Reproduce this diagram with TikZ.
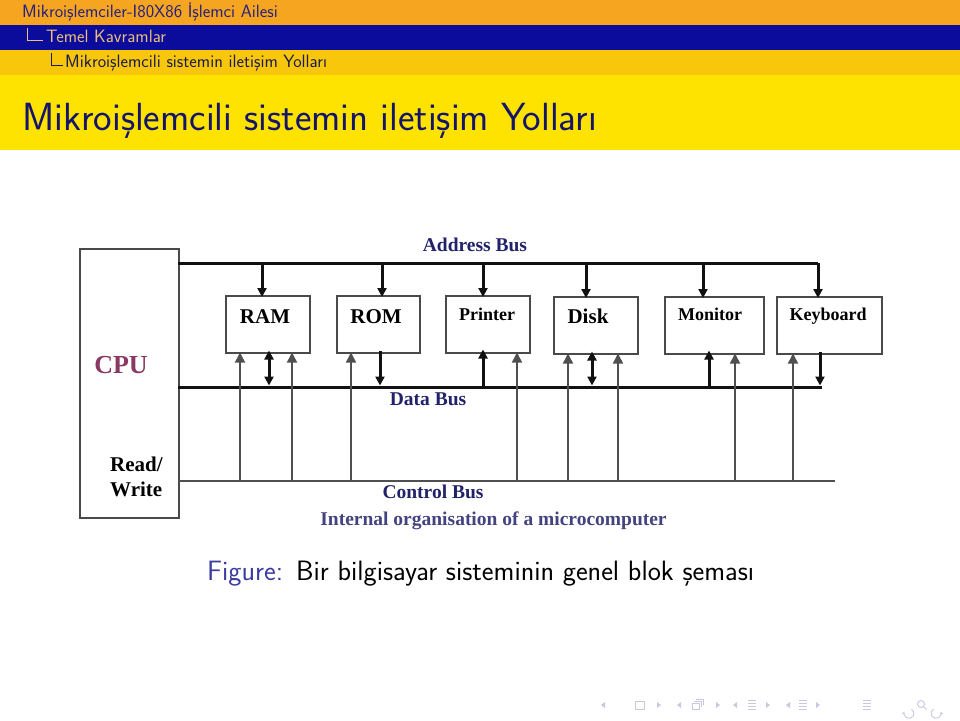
\documentclass[tikz,border=0pt]{standalone}
\usepackage{fontspec}
\newfontfamily\tnr{Liberation Serif}
\usetikzlibrary{arrows.meta}
\definecolor{borange}{HTML}{F6A521}
\definecolor{bblue}{HTML}{0B0B9C}
\definecolor{byel}{HTML}{F8C70C}
\definecolor{btitle}{HTML}{FFE300}
\definecolor{hOne}{HTML}{26207E}
\definecolor{hTwo}{HTML}{E8BE7A}
\definecolor{hThree}{HTML}{1B1B4A}
\definecolor{titlec}{HTML}{14146A}
\definecolor{boxc}{HTML}{4A4A4A}
\definecolor{busc}{HTML}{111111}
\definecolor{ctrlc}{HTML}{505050}
\definecolor{labc}{HTML}{22226A}
\definecolor{cpuc}{HTML}{8A3A62}
\definecolor{figc}{HTML}{3C3CA0}
\definecolor{navc}{HTML}{C8C8DE}
\tikzset{
  hdr/.style={anchor=base west, inner sep=0, font=\sffamily\fontsize{17.9}{21}\selectfont},
  unit/.style={draw=boxc, line width=1.5, minimum width=#1, minimum height=57, anchor=north west, inner sep=0},
  blab/.style={anchor=base, inner sep=0, font=\tnr\bfseries\fontsize{21}{24}\selectfont},
  slab/.style={anchor=base, inner sep=0, font=\tnr\bfseries\fontsize{18}{21}\selectfont},
  buslab/.style={anchor=base, inner sep=0, text=labc, font=\tnr\bfseries\fontsize{19.5}{23}\selectfont},
  busline/.style={draw=busc, line width=3},
  ctrlline/.style={draw=ctrlc, line width=1.5},
  tarrow/.style={draw=busc, line width=3, -{Triangle[width=9pt,length=9pt]}},
  tdarrow/.style={draw=busc, line width=3, {Triangle[width=9pt,length=9pt]}-{Triangle[width=9pt,length=9pt]}},
  carrow/.style={draw=ctrlc, line width=1.5, -{Triangle[width=10pt,length=10pt]}},
  navtri/.style={fill=navc},
  navline/.style={draw=navc, line width=0.9}
}
\begin{document}
\begin{tikzpicture}[x=1pt,y=-1pt]
\useasboundingbox (0,0) rectangle (960,720);
\fill[white] (0,0) rectangle (960,720);
% header bands
\fill[borange] (0,0) rectangle (960,25);
\fill[bblue] (0,25) rectangle (960,50);
\fill[byel] (0,50) rectangle (960,75);
\fill[btitle] (0,75) rectangle (960,150);
\node[hdr, text=hOne] (h1) at (22,17.5) {Mikroişlemciler-I80X86 İşlemci Ailesi};
\node[hdr, text=hTwo] (h2) at (46,42.5) {Temel Kavramlar};
\node[hdr, text=hThree] (h3) at (65,67.5) {Mikroişlemcili sistemin iletişim Yolları};
\draw[hTwo, line width=1] (27,27.5) -- (27,40.5) -- (43,40.5);
\draw[hThree, line width=1] (51.5,52.5) -- (51.5,65.5) -- (63,65.5);
\node[anchor=base west, inner sep=0, text=titlec, font=\sffamily\fontsize{39.3}{45}\selectfont] (title) at (22,130) {Mikroişlemcili sistemin iletişim Yolları};

% CPU
\node[draw=boxc, line width=1.5, minimum width=99, minimum height=269, anchor=north west, inner sep=0] (cpu) at (79,248) {};
\node[anchor=base, inner sep=0, text=cpuc, font=\tnr\bfseries\fontsize{26}{30}\selectfont] (cput) at (121,373) {CPU};
\node[anchor=base west, inner sep=0, font=\tnr\bfseries\fontsize{21}{25}\selectfont] (rd) at (110,471.5) {Read/};
\node[anchor=base west, inner sep=0, font=\tnr\bfseries\fontsize{21}{25}\selectfont] (wr) at (110,496.5) {Write};

% units
\node[unit=84] (ram) at (225,295) {};
\node[unit=83] (rom) at (336,295) {};
\node[unit=84] (prn) at (445,295) {};
\node[unit=84] (disk) at (553,296) {};
\node[unit=99] (mon) at (664,296) {};
\node[unit=105] (kbd) at (776,296) {};
\node[blab] (ramt) at (265,323) {RAM};
\node[blab] (romt) at (376,323) {ROM};
\node[slab] (prnt) at (487,320) {Printer};
\node[blab] (diskt) at (588,323) {Disk};
\node[slab] (mont) at (710,320.5) {Monitor};
\node[slab] (kbdt) at (828,320) {Keyboard};

% bus labels
\node[buslab, text=labc] (abt) at (475,251.5) {Address Bus};
\node[buslab] (dbt) at (428,405) {Data Bus};
\node[buslab] (cbt) at (433,498) {Control Bus};
\node[buslab, text=labc!85!white] (cap1) at (493.5,525) {Internal organisation of a microcomputer};

% address bus
\coordinate (abL) at (178,263);
\coordinate (abR) at (818,263);
\draw[busline] (abL) -- (abR);
\foreach \x/\n in {262/ram,382/rom,483/prn,586/disk,703/mon,818/kbd}{
  \coordinate (t) at (\x,263);
  \draw[tarrow] (t) -- ([yshift=-2]t |- \n.north);
}
% data bus
\coordinate (dbL) at (178,387);
\coordinate (dbR) at (822,387);
\draw[busline] (dbL) -- (dbR);
% control bus
\coordinate (cbL) at (178,481);
\coordinate (cbR) at (835,481);
\draw[ctrlline] (cbL) -- (cbR);
\foreach \x/\n in {240/ram,292/ram,351/rom,517/prn,568/disk,618/disk,735/mon,793/kbd}{
  \coordinate (c) at (\x,481);
  \draw[carrow] (c) -- ([yshift=1]c |- \n.south);
}
% data connections
\coordinate (d1) at (269,385.5);
\draw[tdarrow] (d1) -- ([yshift=3]d1 |- ram.south);
\coordinate (d2) at (380,385.5);
\draw[tarrow] ([yshift=3]d2 |- rom.south) -- (d2);
\coordinate (d3) at (483,387);
\draw[tarrow] (d3) -- ([yshift=4]d3 |- prn.south);
\coordinate (d4) at (592,385.5);
\draw[tdarrow] (d4) -- ([yshift=3]d4 |- disk.south);
\coordinate (d5) at (709,387);
\draw[tarrow] (d5) -- ([yshift=4]d5 |- mon.south);
\coordinate (d6) at (820,385.5);
\draw[tarrow] ([yshift=3]d6 |- kbd.south) -- (d6);

% caption
\node[anchor=base west, inner sep=0, font=\sffamily\fontsize{28}{32}\selectfont] (cap) at (207,580) {\textcolor{figc}{Figure:}\hspace{13pt}Bir bilgisayar sisteminin genel blok şeması};

% navigation symbols
\foreach \x in {603,679,735,788}{
  \fill[navtri] (\x-2,705) -- (\x+2,702) -- (\x+2,708) -- cycle;
}
\foreach \x in {659,718,768,818}{
  \fill[navtri] (\x+2,705) -- (\x-2,702) -- (\x-2,708) -- cycle;
}
\draw[navline] (635,701) rectangle (644,709);
\draw[navline] (692,703) rectangle (699,709);
\draw[navline] (694,701) -- (701,701) -- (701,707);
\draw[navline] (696,699) -- (703,699) -- (703,705);
\foreach \x in {752,803,867}{
  \draw[navline] (\x-4,700.5) -- (\x+4,700.5);
  \draw[navline] (\x-4,703.5) -- (\x+4,703.5);
  \draw[navline] (\x-4,706.5) -- (\x+4,706.5);
  \draw[navline] (\x-4,709.5) -- (\x+4,709.5);
}
\draw[navline, -{Stealth[length=3pt,width=3pt]}] (911.5,709) arc[start angle=-60, end angle=200, radius=5];
\draw[navline] (921,704) circle[radius=3.5];
\draw[navline] (923.5,706.5) -- (926.5,709.5);
\draw[navline, -{Stealth[length=3pt,width=3pt]}] (933.5,709) arc[start angle=240, end angle=-20, radius=5];
\end{tikzpicture}
\end{document}
